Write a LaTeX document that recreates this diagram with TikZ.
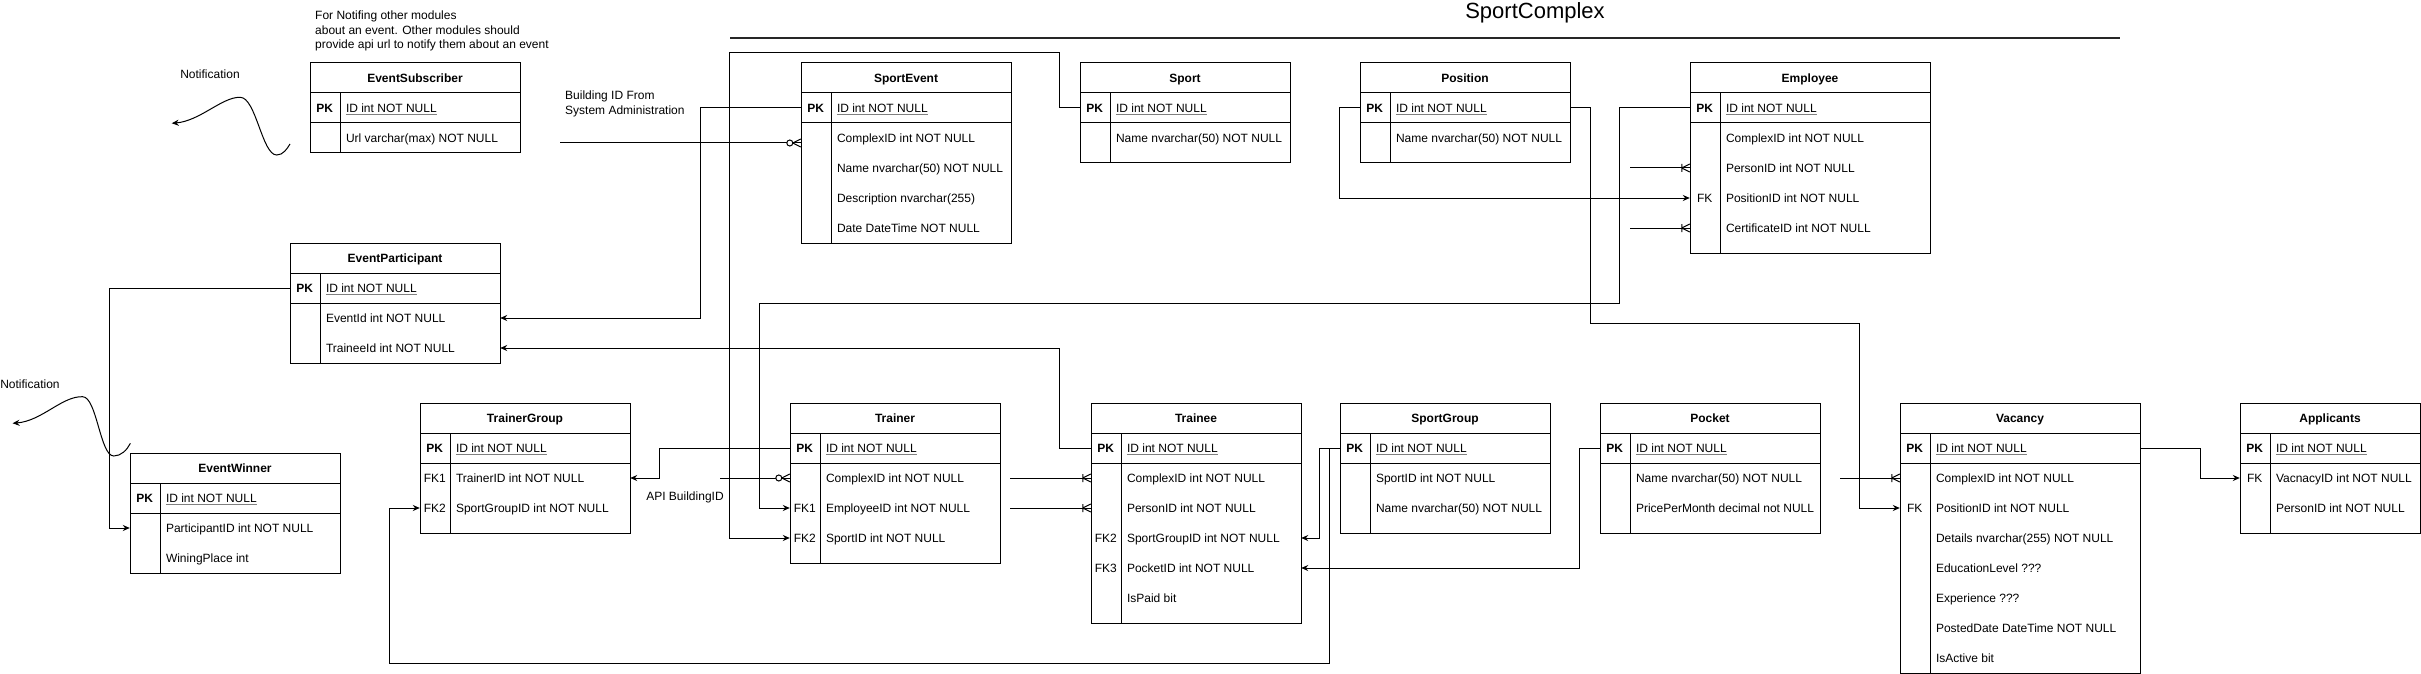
\documentclass[tikz,border=0pt]{standalone}
\usepackage{fontspec}
\setmainfont{Liberation Sans}
\usetikzlibrary{arrows.meta}
\newcommand{\erfont}{\fontsize{12}{14.4}\selectfont}
\tikzset{
  manymark/.pic={\draw[line width=1pt] (-8,0) -- (0,-4) (-8,0) -- (0,4) (-8,-4) -- (-8,4);},
  zeromark/.pic={\draw[line width=1pt] (-8,0) -- (0,-4) (-8,0) -- (0,4);
                 \draw[line width=1pt,fill=white] (-11,0) circle (3pt);}
}
% one table: name, left, top, width, height, title, key/field rows
\newcommand{\ertable}[7]{%
  \draw[tableline] (#2,#3) rectangle ++(#4,#5);
  \draw[tableline] (#2,#3+30) -- ++(#4,0);
  \draw[tableline] (#2,#3+60) -- ++(#4,0);
  \draw[tableline] (#2+30,#3+30) -- (#2+30,#3+#5);
  \node[cell,minimum width=#4pt] (#1) at (#2+#4/2,#3+15) {};
  \node[headtext] at ([yshift=-4.3pt]#1.center) {#6};
  \foreach \k/\f [count=\i] in {#7} {
    \node[cell,minimum width=#4pt] (#1-\i) at (#2+#4/2,#3+30*\i+15) {};
    \node[keytext] at ([xshift=15pt,yshift=-4.3pt]#1-\i.west) {\ifnum\i=1 \bfseries\fi\k};
    \node[fieldtext] (#1-t\i) at ([xshift=36pt,yshift=-4.3pt]#1-\i.west) {\f};
    \ifnum\i=1
      \draw[pkline] ([yshift=-2.5pt]#1-t\i.base west) -- ([yshift=-2.5pt]#1-t\i.base east);
    \fi
  }
}

\begin{document}
\begin{tikzpicture}[x=1pt,y=-1pt,
    tableline/.style={line width=1pt},
    cell/.style={minimum height=30pt,inner sep=0pt},
    headtext/.style={anchor=base,inner sep=0pt,font=\erfont\bfseries},
    keytext/.style={anchor=base,inner sep=0pt,font=\erfont},
    fieldtext/.style={anchor=base west,inner sep=0pt,font=\erfont},
    pkline/.style={line width=0.8pt,gray},
    note/.style={anchor=west,align=left,inner sep=0pt,font=\erfont},
    fk/.style={line width=1pt,-{Stealth[length=7pt,width=6pt]}}]
    \useasboundingbox (0,0) rectangle (2421,674);

    \node[font=\fontsize{22}{26}\selectfont] (title) at (1535,13) {SportComplex};
    \draw[line width=2.5pt,black!85] (730,38) -- (2120,38);

    \ertable{esub}{310}{63}{210}{90}{EventSubscriber}{PK/ID int NOT NULL, /Url varchar(max) NOT NULL}
    \ertable{sevent}{801}{63}{210}{180}{SportEvent}{PK/ID int NOT NULL, /ComplexID int NOT NULL, /Name nvarchar(50) NOT NULL, /Description nvarchar(255), /Date DateTime NOT NULL}
    \ertable{sport}{1080}{63}{210}{100}{Sport}{PK/ID int NOT NULL, /Name nvarchar(50) NOT NULL}
    \ertable{position}{1360}{63}{210}{100}{Position}{PK/ID int NOT NULL, /Name nvarchar(50) NOT NULL}
    \ertable{employee}{1690}{63}{240}{190}{Employee}{PK/ID int NOT NULL, /ComplexID int NOT NULL, /PersonID int NOT NULL, FK/PositionID int NOT NULL, /CertificateID int NOT NULL}
    \ertable{epart}{290}{243}{210}{120}{EventParticipant}{PK/ID int NOT NULL, /EventId int NOT NULL, /TraineeId int NOT NULL}
    \ertable{ewinner}{130}{453}{210}{120}{EventWinner}{PK/ID int NOT NULL, /ParticipantID int NOT NULL, /WiningPlace int}
    \ertable{tgroup}{420}{403}{210}{130}{TrainerGroup}{PK/ID int NOT NULL, FK1/TrainerID int NOT NULL, FK2/SportGroupID int NOT NULL}
    \ertable{trainer}{790}{403}{210}{160}{Trainer}{PK/ID int NOT NULL, /ComplexID int NOT NULL, FK1/EmployeeID int NOT NULL, FK2/SportID int NOT NULL}
    \ertable{trainee}{1091}{403}{210}{220}{Trainee}{PK/ID int NOT NULL, /ComplexID int NOT NULL, /PersonID int NOT NULL, FK2/SportGroupID int NOT NULL, FK3/PocketID int NOT NULL, /IsPaid bit}
    \ertable{sgroup}{1340}{403}{210}{130}{SportGroup}{PK/ID int NOT NULL, /SportID int NOT NULL, /Name nvarchar(50) NOT NULL}
    \ertable{pocket}{1600}{403}{220}{130}{Pocket}{PK/ID int NOT NULL, /Name nvarchar(50) NOT NULL, /PricePerMonth decimal not NULL}
    \ertable{vacancy}{1900}{403}{240}{270}{Vacancy}{PK/ID int NOT NULL, /ComplexID int NOT NULL, FK/PositionID int NOT NULL, /Details nvarchar(255) NOT NULL, /EducationLevel ???, /Experience ???, /PostedDate DateTime NOT NULL, /IsActive bit}
    \ertable{applicants}{2240}{403}{180}{130}{Applicants}{PK/ID int NOT NULL, FK/VacnacyID int NOT NULL, /PersonID int NOT NULL}

    % notes
    \node[note] (subnote) at (315,31) {For Notifing other modules\\about an event. Other modules should\\provide api url to notify them about an event};
    \node[note] (bldnote) at (565,104) {Building ID From\\System Administration};
    \node[note,anchor=center] (notify1) at (210,74) {Notification};
    \node[note,anchor=center] (notify2) at (30,384) {Notification};
    \node[note,anchor=center] (apinote) at (685,497) {API BuildingID};

    % notifications
    \draw[fk] (290,144) .. controls (287,149) and (283,155) .. (276.7,155)
        .. controls (262,155) and (256,97) .. (240,97.3)
        .. controls (222,97) and (200,121) .. (171.7,123.3);
    \draw[fk] (130.4,443.3) .. controls (127,450) and (121,456) .. (113.8,456)
        .. controls (100,456) and (97,397) .. (82.6,396.7)
        .. controls (62,396) and (42,421) .. (12.5,423.3);

    % foreign keys
    \draw[fk] (epart-1.west) -- ++(-180,0) |- (ewinner-2.west);
    \draw[fk] (sevent-1.west) -- ++(-100,0) |- (epart-2.east);
    \draw[fk] (trainee-1.west) -- ++(-31,0) |- (epart-3.east);
    \draw[fk] (trainer-1.west) -- ++(-130,0) |- (tgroup-2.east);
    \draw[fk] (sgroup-1.west) -- ++(-10,0) -- ++(0,215) -| ([xshift=-30pt]tgroup-3.west) -- (tgroup-3.west);
    \draw[fk] (sgroup-1.west) -- ++(-20,0) |- (trainee-4.east);
    \draw[fk] (pocket-1.west) -- ++(-20,0) |- (trainee-5.east);
    \draw[fk] (employee-1.west) -- ++(-70,0) -- ++(0,195) -| ([xshift=-30pt]trainer-3.west) -- (trainer-3.west);
    \draw[fk] (sport-1.west) -- ++(-20,0) -- ++(0,-55) -| ([xshift=-60pt]trainer-4.west) -- (trainer-4.west);
    \draw[fk] (position-1.west) -- ++(-20,0) |- (employee-4.west);
    \draw[fk] (position-1.east) -- ++(20,0) -- ++(0,215) -| ([xshift=-40pt]vacancy-3.west) -- (vacancy-3.west);
    \draw[fk] (vacancy-1.east) -- ++(60,0) |- (applicants-2.west);

    % outside references
    \coordinate (bldend) at (560,143);
    \coordinate (apiend) at (720,478);
    \coordinate (traineecx) at (1010,478);
    \coordinate (traineepr) at (1010,508);
    \coordinate (emppr) at (1630,168);
    \coordinate (empcert) at (1630,228);
    \coordinate (vaccx) at (1840,478);
    \draw[tableline] (bldend) -- (bldend -| sevent-2.west);
    \path (bldend -| sevent-2.west) pic {zeromark};
    \draw[tableline] (apiend) -- (trainer-2.west);
    \path (trainer-2.west) pic {zeromark};
    \draw[tableline] (traineecx) -- (trainee-2.west);
    \path (trainee-2.west) pic {manymark};
    \draw[tableline] (traineepr) -- (trainee-3.west);
    \path (trainee-3.west) pic {manymark};
    \draw[tableline] (emppr) -- (employee-3.west);
    \path (employee-3.west) pic {manymark};
    \draw[tableline] (empcert) -- (employee-5.west);
    \path (employee-5.west) pic {manymark};
    \draw[tableline] (vaccx) -- (vacancy-2.west);
    \path (vacancy-2.west) pic {manymark};
\end{tikzpicture}
\end{document}
